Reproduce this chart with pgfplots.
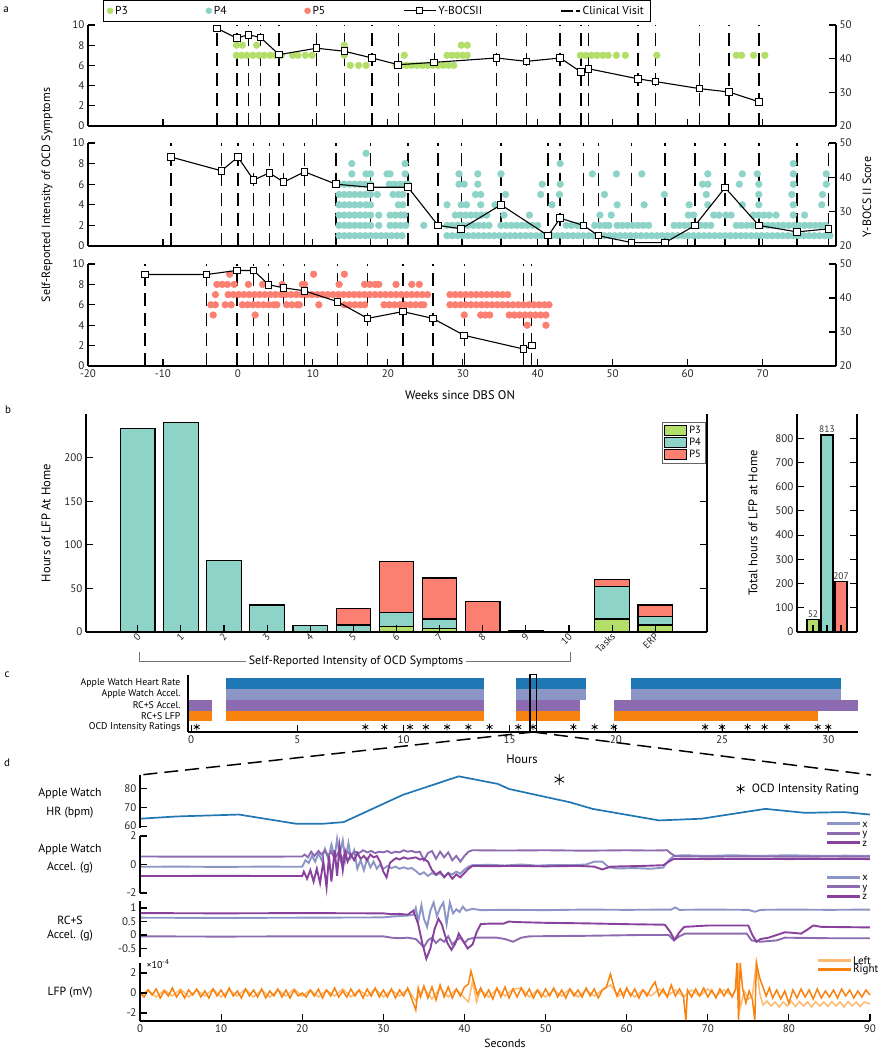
\documentclass[border=0pt]{standalone}
\usepackage{fontspec}
\setmainfont{PT Sans}
\usepackage{pgfplots}
\pgfplotsset{compat=1.18}
\definecolor{p3}{HTML}{B3DE69}
\definecolor{p4}{HTML}{8DD3C7}
\definecolor{p5}{HTML}{FB8072}
\definecolor{hrc}{HTML}{1F77B4}
\definecolor{aax}{HTML}{8C96C6}
\definecolor{aay}{HTML}{8C6BB1}
\definecolor{aaz}{HTML}{88419D}
\definecolor{lfpR}{HTML}{F8820F}
\definecolor{lfpL}{HTML}{FDBA70}
\pgfplotsset{
  base/.style={scale only axis, axis on top, tick align=inside, major tick length=7pt,
    tick style={black, line width=1.1pt},
    axis line style={black, line width=1.4pt},
    tick label style={font=\fontsize{11}{12}\selectfont, text=black!85},
    /pgf/number format/assume math mode=true, clip=false},
  dots/.style={only marks, mark=*, mark size=3.4pt, mark options={draw=none}, forget plot},
  visits/.style={black, line width=1.5pt, dash pattern=on 13pt off 7pt, ycomb, mark=none, forget plot},
  ybocs/.style={black, line width=1.1pt, mark=square*, mark size=3.3pt, mark options={fill=white, draw=black, line width=1pt, solid}, forget plot},
  trace/.style={line width=1.9pt, mark=none},
  xyzleg/.style={legend cell align=left, legend style={draw=none, fill=none, font=\fontsize{10.5}{10.5}\selectfont, row sep=0pt, inner sep=0pt, nodes={inner sep=0.5pt, text height=6.5pt, text depth=2pt}},
    legend image code/.code={\draw[##1, line width=3pt] (0pt,1pt) -- (33pt,1pt);}},
  ybleg/.style={legend image code/.code={\draw[mark repeat=2,mark phase=2,##1] plot coordinates {(0pt,0pt) (16pt,0pt) (32pt,0pt)};}},
  cvleg/.style={legend image code/.code={\draw[black, line width=1.6pt] (0pt,0pt) -- (12pt,0pt); \draw[black, line width=1.6pt] (15pt,0pt) -- (19pt,0pt);}},
  starleg/.style={legend image code/.code={\path (-4pt,0pt) (9pt,0pt); \draw[##1] plot coordinates {(0pt,0pt)};}},
}
\begin{document}
\begin{tikzpicture}[x=1pt,y=1pt]
\useasboundingbox (0,0) rectangle (878,1050);

% ================= Panel a =================
\node[font=\fontsize{11}{12}\selectfont] at (6,1040) {a};
% --- P3 ---
\begin{axis}[base, at={(88pt,924pt)}, anchor=south west, width=748pt, height=101pt,
  xmin=-20, xmax=79.8, ymin=0, ymax=10,
  axis x line*=bottom, axis y line*=left,
  xtick={-20,-10,...,70}, xticklabels={}, ytick={0,2,...,10},
  legend columns=5, legend cell align=left,
  legend style={at={(axis description cs:0.02,1.245)}, anchor=north west, draw=black, fill=white,
    font=\fontsize{11.5}{13}\selectfont, inner ysep=3.5pt, inner xsep=4pt,
    /tikz/every even column/.append style={column sep=76pt}}]
\addplot[dots, p3] coordinates {(-0.2,8)(0.6,8)(2.5,8)(14.2,8)(29.8,8)(30.6,8)(-0.2,7)(0.5,7)(1.2,7)(2.0,7)(2.8,7)(3.5,7)(4.3,7)(5.0,7)(5.8,7)(7.3,7)(8.0,7)(9.0,7)(9.9,7)(14.2,7)(22.2,7)(27.9,7)(28.6,7)(29.3,7)(30.0,7)(30.6,7)(45.7,7)(46.4,7)(47.2,7)(47.9,7)(48.7,7)(49.4,7)(50.5,7)(51.7,7)(55.9,7)(66.5,7)(67.2,7)(68.8,7)(70.3,7)(15.0,6)(16.1,6)(17.1,6)(21.1,6)(21.8,6)(22.5,6)(23.2,6)(23.9,6)(24.6,6)(25.3,6)(26.0,6)(26.7,6)(27.4,6)(28.1,6)(28.8,6)};
\addplot[visits] coordinates {(-2.8,10)(-0.15,10)(1.4,10)(3.0,10)(5.5,10)(10.5,10)(14.2,10)(17.9,10)(21.4,10)(26.2,10)(34.5,10)(38.5,10)(43.0,10)(45.8,10)(46.8,10)(53.4,10)(55.7,10)(61.6,10)(65.5,10)(69.5,10)};
\addlegendimage{only marks, mark=*, mark size=3pt, mark options={draw=none}, p3}
\addlegendentry{P3}
\addlegendimage{only marks, mark=*, mark size=3pt, mark options={draw=none}, p4}
\addlegendentry{P4}
\addlegendimage{only marks, mark=*, mark size=3pt, mark options={draw=none}, p5}
\addlegendentry{P5}
\addlegendimage{ybleg, black, line width=1.1pt, mark=square*, mark size=3pt, mark options={fill=white, solid}}
\addlegendentry{Y-BOCSII}
\addlegendimage{cvleg, black}
\addlegendentry{Clinical Visit}
\end{axis}
\begin{axis}[base, at={(88pt,924pt)}, anchor=south west, width=748pt, height=101pt,
  xmin=-20, xmax=79.8, ymin=20, ymax=50, axis x line=none, axis y line*=right, ytick={20,30,40,50}]
\addplot[ybocs] coordinates {(-2.8,49.0)(-0.15,46.1)(1.4,47.1)(3.0,46.3)(5.5,41.2)(10.5,43.1)(14.2,42.2)(17.9,40.2)(21.4,38.2)(26.2,38.9)(34.5,40.2)(38.5,39.2)(43.0,40.2)(45.8,36.0)(46.8,37.0)(53.4,34.0)(55.7,33.2)(61.6,31.1)(65.5,30.1)(69.5,27.2)};
\end{axis}

% --- P4 ---
\begin{axis}[base, at={(88pt,804pt)}, anchor=south west, width=748pt, height=103pt,
  xmin=-20, xmax=79.8, ymin=0, ymax=10,
  axis x line*=bottom, axis y line*=left,
  xtick={-20,-10,...,70}, xticklabels={}, ytick={0,2,...,10}]
\addplot[dots, p4] coordinates {(13.5,1)(14.2,1)(14.9,1)(15.6,1)(16.3,1)(17.0,1)(17.7,1)(18.4,1)(19.1,1)(19.8,1)(20.5,1)(21.2,1)(21.9,1)(27.9,1)(28.6,1)(29.3,1)(30.0,1)(30.7,1)(31.4,1)(32.1,1)(32.8,1)(33.5,1)(34.2,1)(34.9,1)(35.6,1)(36.3,1)(37.0,1)(37.7,1)(38.4,1)(39.1,1)(39.8,1)(40.5,1)(41.2,1)(41.9,1)(42.6,1)(43.3,1)(44.0,1)(44.7,1)(45.4,1)(46.1,1)(46.8,1)(47.5,1)(48.2,1)(48.9,1)(49.6,1)(50.3,1)(51.0,1)(51.7,1)(52.4,1)(53.1,1)(53.8,1)(54.5,1)(55.2,1)(55.9,1)(56.6,1)(57.3,1)(58.0,1)(58.7,1)(59.4,1)(60.1,1)(60.8,1)(61.5,1)(62.2,1)(62.9,1)(63.6,1)(64.3,1)(65.0,1)(65.7,1)(66.4,1)(67.1,1)(67.8,1)(68.5,1)(69.2,1)(69.9,1)(70.6,1)(71.3,1)(72.0,1)(72.7,1)(73.4,1)(74.1,1)(74.8,1)(75.5,1)(76.2,1)(76.9,1)(77.6,1)(78.3,1)(79.0,1)
(13.5,2)(14.2,2)(14.9,2)(15.6,2)(16.3,2)(17.0,2)(17.7,2)(18.8,2)(20.3,2)(21.0,2)(21.7,2)(22.4,2)(24.8,2)(27.9,2)(28.6,2)(29.3,2)(30.0,2)(30.7,2)(31.4,2)(32.1,2)(32.8,2)(33.5,2)(35.1,2)(35.8,2)(36.5,2)(37.2,2)(37.9,2)(38.6,2)(39.3,2)(40.0,2)(43.8,2)(44.5,2)(45.3,2)(47.6,2)(48.3,2)(49.0,2)(49.5,2)(50.6,2)(51.3,2)(52.0,2)(52.7,2)(53.4,2)(54.1,2)(54.8,2)(58.2,2)(58.9,2)(59.6,2)(60.3,2)(61.0,2)(61.7,2)(62.4,2)(63.1,2)(66.5,2)(67.2,2)(67.9,2)(68.6,2)(69.3,2)(70.0,2)(70.7,2)(71.4,2)(72.1,2)(72.8,2)(73.5,2)(74.2,2)(74.9,2)(75.6,2)(76.3,2)(77.0,2)(77.7,2)(78.4,2)
(13.5,3)(14.2,3)(14.9,3)(15.6,3)(16.3,3)(17.0,3)(17.7,3)(18.8,3)(20.3,3)(21.0,3)(21.7,3)(22.2,3)(29.0,3)(29.7,3)(30.4,3)(31.1,3)(31.8,3)(32.5,3)(33.2,3)(35.5,3)(38.9,3)(48.3,3)(49.8,3)(60.1,3)(60.8,3)(63.5,3)(64.2,3)(65.1,3)(65.8,3)(68.8,3)(69.5,3)(70.2,3)(70.9,3)(71.8,3)(74.1,3)(75.6,3)
(13.5,4)(14.2,4)(14.9,4)(15.6,4)(16.3,4)(17.1,4)(17.7,4)(21.4,4)(22.0,4)(27.9,4)(29.8,4)(30.5,4)(32.4,4)(34.3,4)(41.9,4)(50.6,4)(54.2,4)(60.2,4)(62.7,4)(67.3,4)(69.5,4)(74.1,4)(77.9,4)
(13.5,5)(14.2,5)(14.9,5)(15.6,5)(16.3,5)(17.0,5)(17.7,5)(18.6,5)(20.7,5)(21.4,5)(22.0,5)(31.7,5)(32.4,5)(35.7,5)(40.4,5)(42.9,5)(48.9,5)(56.9,5)(62.5,5)(69.5,5)(73.9,5)(78.0,5)
(13.5,6)(14.2,6)(14.9,6)(15.6,6)(16.3,6)(17.0,6)(17.7,6)(20.2,6)(20.9,6)(21.6,6)(22.3,6)(22.7,6)(29.5,6)(30.2,6)(32.0,6)(40.6,6)(43.0,6)(62.0,6)(62.7,6)(66.9,6)(69.5,6)(74.1,6)(78.5,6)
(15.2,7)(17.1,7)(17.7,7)(19.9,7)(20.3,7)(22.3,7)(29.5,7)(32.0,7)(35.1,7)(47.3,7)(50.5,7)(53.9,7)(62.7,7)(67.3,7)(69.3,7)(74.1,7)(78.5,7)
(15.2,8)(22.3,8)(43.0,8)(74.1,8)(17.1,9)};
\addplot[visits] coordinates {(-8.9,10)(-2.2,10)(0,10)(2.1,10)(4.2,10)(6.1,10)(8.9,10)(13.1,10)(17.7,10)(22.7,10)(26.7,10)(29.8,10)(35.1,10)(41.4,10)(43.0,10)(46.1,10)(48.1,10)(52.5,10)(57.0,10)(61.0,10)(65.0,10)(69.5,10)(74.6,10)(78.8,10)};
\end{axis}
\begin{axis}[base, at={(88pt,804pt)}, anchor=south west, width=748pt, height=103pt,
  xmin=-20, xmax=79.8, ymin=20, ymax=50, axis x line=none, axis y line*=right, ytick={20,30,40,50}]
\addplot[ybocs] coordinates {(-8.9,45.9)(-2.2,41.9)(0,45.9)(2.1,39.2)(4.2,41.3)(6.1,38.6)(8.9,41.6)(13.1,38.0)(17.7,37.1)(22.7,37.1)(26.7,26.0)(29.8,25.0)(35.1,32.0)(41.4,23.0)(43.0,28.1)(46.1,26.0)(48.1,23.0)(52.5,21.0)(57.0,21.0)(61.0,26.0)(65.0,37.0)(69.5,26.0)(74.6,24.1)(78.8,25.0)};
\end{axis}

% --- P5 ---
\begin{axis}[base, at={(88pt,684pt)}, anchor=south west, width=748pt, height=102pt,
  xmin=-20, xmax=79.8, ymin=0, ymax=10,
  axis x line*=bottom, axis y line*=left,
  xtick={-20,-10,...,70}, ytick={0,2,...,10}]
\addplot[dots, p5] coordinates {(-1.1,9)(10.1,9)(14.2,9)
(-2.8,8)(-2.1,8)(-1.4,8)(-0.5,8)(1.4,8)(3.3,8)(5.9,8)(8.6,8)(8.9,8)(13.5,8)(16.9,8)(17.6,8)(18.3,8)(18.8,8)(21.1,8)(23.2,8)(24.2,8)
(-3.0,7)(-1.3,7)(-0.6,7)(0.1,7)(0.8,7)(1.5,7)(2.2,7)(2.9,7)(3.6,7)(4.3,7)(5.0,7)(5.7,7)(6.4,7)(7.1,7)(7.8,7)(8.5,7)(9.2,7)(9.9,7)(10.6,7)(11.3,7)(12.0,7)(12.7,7)(13.4,7)(14.1,7)(14.8,7)(15.5,7)(16.2,7)(16.9,7)(17.6,7)(18.3,7)(19.0,7)(19.7,7)(20.4,7)(21.1,7)(21.8,7)(22.5,7)(23.2,7)(23.9,7)(24.6,7)(25.3,7)(28.3,7)(29.0,7)(29.7,7)(30.4,7)(31.1,7)(31.8,7)(32.5,7)(33.2,7)(33.9,7)(34.6,7)(35.3,7)(36.0,7)
(-3.6,6)(-3.0,6)(-1.7,6)(-0.9,6)(0.6,6)(1.3,6)(2.0,6)(2.7,6)(3.4,6)(4.1,6)(4.8,6)(5.2,6)(6.5,6)(7.2,6)(7.9,6)(8.2,6)(10.8,6)(14.2,6)(14.9,6)(15.6,6)(16.3,6)(16.9,6)(19.5,6)(20.2,6)(20.9,6)(21.6,6)(22.3,6)(23.0,6)(23.7,6)(24.4,6)(24.8,6)(28.3,6)(29.0,6)(29.7,6)(30.4,6)(31.1,6)(31.8,6)(32.5,6)(33.2,6)(33.9,6)(34.6,6)(35.3,6)(36.0,6)(36.7,6)(37.4,6)(38.1,6)(38.8,6)(39.5,6)(40.2,6)(40.9,6)(41.5,6)
(-3.3,5)(2.3,5)(30.2,5)(32.4,5)(33.0,5)(33.6,5)(36.2,5)(36.9,5)(37.6,5)(38.3,5)(39.0,5)(39.7,5)(40.4,5)(41.1,5)(38.6,4)(41.1,4)};
\addplot[visits] coordinates {(-12.4,10)(-4.2,10)(-0.15,10)(2.1,10)(4.1,10)(6.1,10)(8.9,10)(13.3,10)(17.3,10)(22.0,10)(26.0,10)(30.2,10)(38.1,10)(39.2,10)};
\end{axis}
\begin{axis}[base, at={(88pt,684pt)}, anchor=south west, width=748pt, height=102pt,
  xmin=-20, xmax=79.8, ymin=20, ymax=50, axis x line=none, axis y line*=right, ytick={20,30,40,50}]
\addplot[ybocs] coordinates {(-12.4,46.9)(-4.2,46.9)(-0.15,48.1)(2.1,48.1)(4.1,43.9)(6.1,43.0)(8.9,42.1)(13.3,38.9)(17.3,34.0)(22.0,36.0)(26.0,34.0)(30.2,29.0)(38.1,25.0)(39.2,26.0)};
\end{axis}
\node[rotate=90, font=\fontsize{12}{14}\selectfont] at (47,855) {Self-Reported Intensity of OCD Symptoms};
\node[rotate=90, font=\fontsize{12}{14}\selectfont] at (867,853) {Y-BOCS II Score};
\node[font=\fontsize{12.5}{14}\selectfont] at (460,655) {Weeks since DBS ON};

% ================= Panel b =================
\node[font=\fontsize{11}{12}\selectfont] at (8,640) {b};
\begin{axis}[base, at={(86pt,418pt)}, anchor=south west, width=621pt, height=218pt,
  xmin=-1.2, xmax=13.2, ymin=0, ymax=250,
  axis x line*=bottom, axis y line*=box, ytick={0,50,...,200}, ytick pos=both, yticklabel pos=left,
  xtick={0,...,12}, xticklabels={0,1,2,3,4,5,6,7,8,9,10,Tasks,ERP},
  xticklabel style={rotate=45, anchor=east, font=\fontsize{10}{10}\selectfont, inner sep=1pt, yshift=-3pt},
  ybar stacked, bar width=0.8,
  legend cell align=left,
  legend style={at={(0.997,0.963)}, anchor=north east, draw=black!60, fill=white, font=\fontsize{10.5}{11}\selectfont, row sep=-1pt, inner sep=2pt},
  legend image code/.code={\draw[#1, line width=1pt] (0pt,-5pt) rectangle (22pt,5pt);}]
\addplot[fill=p3, draw=black, line width=1.2pt] coordinates {(0,0)(1,0)(2,0)(3,0)(4,0)(5,0)(6,6)(7,4)(8,0)(9,0)(10,0)(11,15)(12,8)};
\addlegendentry{P3}
\addplot[fill=p4, draw=black, line width=1.2pt] coordinates {(0,233)(1,240)(2,82)(3,31)(4,7)(5,8)(6,16)(7,11)(8,0)(9,1)(10,0)(11,37)(12,10)};
\addlegendentry{P4}
\addplot[fill=p5, draw=black, line width=1.2pt] coordinates {(0,0)(1,0)(2,0)(3,0)(4,0)(5,19)(6,59)(7,47)(8,35)(9,1)(10,0)(11,8)(12,13)};
\addlegendentry{P5}
\end{axis}
\draw[black!55, line width=1pt] (139,398) -- (139,388) -- (570,388) -- (570,398);
\node[fill=white, inner xsep=3pt, inner ysep=1pt, font=\fontsize{12}{14}\selectfont] at (356,389) {Self-Reported Intensity of OCD Symptoms};
\node[rotate=90, font=\fontsize{12.5}{14}\selectfont] at (46,527) {Hours of LFP At Home};

\begin{axis}[base, at={(797pt,418pt)}, anchor=south west, width=60pt, height=218pt,
  xmin=-0.14, xmax=4.14, ymin=0, ymax=900,
  axis x line*=bottom, axis y line*=box, ytick={0,100,...,800}, ytick pos=both, yticklabel pos=left,
  xtick={1,2,3}, xticklabels={},
  nodes near coords, every node near coord/.append style={font=\fontsize{9.5}{10}\selectfont, text=black!80, inner sep=1.5pt}]
\addplot[ybar, bar width=0.85, bar shift=0pt, fill=p3, draw=black, line width=1.2pt] coordinates {(1,52)};
\addplot[ybar, bar width=0.85, bar shift=0pt, fill=p4, draw=black, line width=1.2pt] coordinates {(2,813)};
\addplot[ybar, bar width=0.85, bar shift=0pt, fill=p5, draw=black, line width=1.2pt] coordinates {(3,207)};
\end{axis}
\node[rotate=90, font=\fontsize{12.5}{14}\selectfont] at (753,527) {Total hours of LFP at Home};

% ================= Panel c =================
\node[font=\fontsize{11}{12}\selectfont] at (7,375) {c};
\begin{axis}[base, at={(188pt,318pt)}, anchor=south west, width=670pt, height=57pt,
  xmin=-0.15, xmax=31.4, ymin=0.545, ymax=5.73,
  axis x line*=bottom, axis y line*=left, xtick={0,5,...,30}, ytick=\empty]
\addplot[fill=hrc, draw=none] coordinates {(1.66,4.5)(13.8,4.5)(13.8,5.5)(1.66,5.5)} -- cycle;
\addplot[fill=hrc, draw=none] coordinates {(15.3,4.5)(18.6,4.5)(18.6,5.5)(15.3,5.5)} -- cycle;
\addplot[fill=hrc, draw=none] coordinates {(20.7,4.5)(30.6,4.5)(30.6,5.5)(20.7,5.5)} -- cycle;
\addplot[fill=aax, draw=none] coordinates {(1.66,3.5)(13.8,3.5)(13.8,4.5)(1.66,4.5)} -- cycle;
\addplot[fill=aax, draw=none] coordinates {(15.3,3.5)(18.6,3.5)(18.6,4.5)(15.3,4.5)} -- cycle;
\addplot[fill=aax, draw=none] coordinates {(20.7,3.5)(30.6,3.5)(30.6,4.5)(20.7,4.5)} -- cycle;
\addplot[fill=aay, draw=none] coordinates {(-0.13,2.5)(1.0,2.5)(1.0,3.5)(-0.13,3.5)} -- cycle;
\addplot[fill=aay, draw=none] coordinates {(1.66,2.5)(13.8,2.5)(13.8,3.5)(1.66,3.5)} -- cycle;
\addplot[fill=aay, draw=none] coordinates {(15.3,2.5)(18.3,2.5)(18.3,3.5)(15.3,3.5)} -- cycle;
\addplot[fill=aay, draw=none] coordinates {(19.9,2.5)(31.4,2.5)(31.4,3.5)(19.9,3.5)} -- cycle;
\addplot[fill=lfpR, draw=none] coordinates {(-0.13,1.5)(1.0,1.5)(1.0,2.5)(-0.13,2.5)} -- cycle;
\addplot[fill=lfpR, draw=none] coordinates {(1.66,1.5)(13.8,1.5)(13.8,2.5)(1.66,2.5)} -- cycle;
\addplot[fill=lfpR, draw=none] coordinates {(15.3,1.5)(18.3,1.5)(18.3,2.5)(15.3,2.5)} -- cycle;
\addplot[fill=lfpR, draw=none] coordinates {(19.9,1.5)(29.5,1.5)(29.5,2.5)(19.9,2.5)} -- cycle;
\addplot[only marks, mark=asterisk, mark size=3.3pt, black, mark options={line width=0.8pt}] coordinates {(0.26,1)(8.2,1)(9.1,1)(10.3,1)(11.05,1)(12.05,1)(13.05,1)(14.05,1)(15.4,1)(16.1,1)(18.0,1)(19.0,1)(19.9,1)(24.2,1)(25.0,1)(26.2,1)(27.0,1)(28.05,1)(29.5,1)(30.0,1)};
\addplot[black, line width=1.3pt, mark=none] coordinates {(15.95,0.6)(16.25,0.6)(16.25,5.75)(15.95,5.75)} -- cycle;
\coordinate (zc) at (axis cs:16.1,0.545);
\end{axis}
\begin{scope}[font=\fontsize{9.8}{10}\selectfont]
\node[anchor=east] at (184,367) {Apple Watch Heart Rate};
\node[anchor=east] at (184,356) {Apple Watch Accel.};
\node[anchor=east] at (184,345) {RC+S Accel.};
\node[anchor=east] at (184,334) {RC+S LFP};
\node[anchor=east] at (184,323) {OCD Intensity Ratings};
\end{scope}
\node[font=\fontsize{12.5}{14}\selectfont] at (522,291) {Hours};
\draw[black, line width=1.5pt, dash pattern=on 14pt off 7pt] (zc) -- (140,275);
\draw[black, line width=1.5pt, dash pattern=on 14pt off 7pt] (zc) -- (871,275);

% ================= Panel d =================
\node[font=\fontsize{11}{12}\selectfont] at (7,287) {d};
% HR
\begin{axis}[base, at={(140pt,222pt)}, anchor=south west, width=730pt, height=53pt,
  xmin=0, xmax=90, ymin=59, ymax=87, axis x line=none, axis y line*=left, ytick={60,70,80},
  legend style={at={(0.992,0.74)}, anchor=east, draw=none, fill=none, font=\fontsize{12}{13}\selectfont}]
\addplot[hrc, line width=1.7pt, forget plot] coordinates {(0,63.9)(4.5,65.1)(12.2,66.1)(19.3,61.2)(22.4,61.2)(25.1,62.1)(32.4,76.5)(39.3,86.3)(44.1,82.3)(45.5,79.6)(53.0,72.6)(55.8,69.1)(64.0,63.0)(69.2,63.9)(77.1,69.1)(82.0,67.0)(86.8,67.4)(90,66.1)};
\addplot[only marks, mark=asterisk, mark size=5.5pt, black, mark options={line width=0.8pt}, forget plot] coordinates {(51.7,84.6)};
\addlegendimage{starleg, only marks, mark=asterisk, mark size=4.5pt, black, mark options={line width=0.8pt}}
\addlegendentry{OCD Intensity Rating}
\end{axis}
% Apple Watch accel
\begin{axis}[base, xyzleg, at={(140pt,157pt)}, anchor=south west, width=730pt, height=57pt,
  xmin=0, xmax=90, ymin=-2, ymax=2, axis x line=none, axis y line*=left, ytick={-2,0,2},
  legend style={at={(0.998,1.28)}, anchor=north east}]
\addplot[trace, aax] coordinates {(0,-0.16)(5,-0.15)(10,-0.17)(15,-0.15)(20,-0.16)(20.4,0.3)(20.8,0.1)(21.2,0.6)(21.6,0.2)(22,0.8)(22.4,0.3)(22.8,1.1)(23.2,0.4)(23.6,1.4)(24,0.5)(24.3,1.8)(24.6,0.7)(25,1.7)(25.3,0.3)(25.7,1.5)(26,0.5)(26.4,1.0)(26.8,-0.3)(27.2,0.3)(27.6,-0.4)(28,0.4)(28.4,-0.2)(28.8,0.2)(29.2,-0.3)(29.6,0.0)(30,-0.3)(30.5,-0.1)(31,-0.25)(31.5,-0.15)(32,-0.3)(32.5,-0.2)(33,-0.3)(33.5,-0.25)(34,-0.45)(34.5,-0.7)(35,-0.55)(35.5,-0.8)(36,-0.6)(36.5,-0.75)(37,-0.6)(37.5,-0.85)(38,-0.6)(38.5,-0.7)(39,-0.5)(39.5,-0.65)(40,-0.35)(40.5,-0.15)(41,-0.05)(43,-0.02)(45,-0.07)(47,0.0)(49,-0.08)(51,-0.03)(53,-0.05)(55,0.0)(56,0.2)(57,0.2)(57.8,-0.2)(59,-0.28)(61,-0.25)(63,-0.3)(64.5,-0.22)(65.2,0.3)(65.8,0.6)(67,0.65)(70,0.6)(73,0.65)(76,0.6)(80,0.65)(84,0.6)(87,0.62)(90,0.6)};
\addlegendentry{x}
\addplot[trace, aay] coordinates {(0,0.56)(10,0.55)(20,0.56)(20.3,0.7)(20.7,0.5)(21.1,0.9)(21.5,0.6)(22,0.95)(22.4,0.7)(22.8,1.0)(23.2,0.6)(23.6,0.9)(24,0.4)(24.4,0.8)(24.8,0.2)(25.2,0.7)(25.6,0.9)(26,0.6)(26.5,0.9)(27,0.8)(27.5,1.0)(28,0.85)(28.5,0.95)(29,0.8)(29.5,0.9)(30,0.85)(30.5,0.95)(31,0.8)(31.5,0.9)(32,0.85)(32.5,1.0)(33,0.9)(33.5,0.95)(34,0.85)(34.5,0.9)(35,0.3)(35.5,0.8)(36,0.95)(36.5,0.4)(37,0.9)(37.5,0.5)(38,0.85)(38.5,0.3)(39,0.6)(39.5,0.2)(40,0.6)(40.5,0.9)(41,1.0)(45,0.98)(50,1.0)(55,0.97)(60,1.0)(63,0.98)(65,1.0)(65.4,0.8)(66,0.58)(70,0.55)(75,0.57)(80,0.55)(85,0.56)(90,0.55)};
\addlegendentry{y}
\addplot[trace, aaz] coordinates {(0,-0.81)(10,-0.8)(20,-0.81)(20.2,-0.5)(20.6,-1.0)(21,-0.4)(21.4,-1.2)(21.8,-0.3)(22.2,-1.3)(22.6,0.2)(23,-1.6)(23.3,0.6)(23.6,-1.2)(24,1.0)(24.3,-0.8)(24.6,1.3)(25,-0.4)(25.3,0.9)(25.6,0.2)(26,0.7)(26.4,0.3)(26.8,0.8)(27.2,0.4)(27.6,0.6)(28,0.3)(28.4,0.7)(28.8,0.5)(29.2,0.6)(29.6,0.2)(30,-0.5)(30.4,-0.9)(30.8,0.1)(31.2,0.3)(31.6,0.45)(32,0.35)(32.5,0.5)(33,0.4)(33.5,0.45)(34,0.5)(34.5,0.35)(35,0.4)(35.5,0.2)(36,-0.4)(36.5,-0.7)(37,-0.5)(37.5,-0.9)(38,-0.6)(38.5,-1.0)(39,-0.7)(39.5,-0.9)(40,-0.6)(40.5,-0.3)(41,-0.1)(43,-0.12)(46,-0.1)(50,-0.13)(54,-0.1)(56,-0.15)(57,-0.35)(58,-0.15)(62,-0.1)(64.5,-0.05)(65.2,0.2)(65.8,0.4)(70,0.38)(75,0.4)(80,0.38)(85,0.4)(90,0.38)};
\addlegendentry{z}
\end{axis}
% RC+S accel
\begin{axis}[base, xyzleg, at={(140pt,93.4pt)}, anchor=south west, width=730pt, height=55.4pt,
  xmin=0, xmax=90, ymin=-0.8, ymax=1.25, axis x line=none, axis y line*=left, ytick={-0.5,0,0.5,1},
  legend style={at={(0.998,1.5)}, anchor=north east}]
\addplot[trace, aax] coordinates {(0,0.64)(10,0.63)(20,0.64)(30,0.65)(31,0.68)(32,0.7)(33,0.72)(33.7,0.75)(34,1.0)(34.3,0.5)(34.7,1.1)(35,0.6)(35.4,0.3)(35.8,0.9)(36.2,1.2)(36.6,0.7)(37,1.0)(37.4,1.2)(37.8,0.4)(38.2,1.2)(38.6,0.8)(39,0.95)(39.4,0.85)(39.8,1.05)(40.2,0.9)(41,0.97)(42,0.92)(45,0.93)(50,0.92)(55,0.94)(60,0.93)(65.5,0.94)(66,1.02)(66.5,0.93)(70,0.94)(75,0.93)(75.8,0.86)(76.5,0.93)(80,0.94)(85,0.93)(90,0.94)};
\addlegendentry{x}
\addplot[trace, aay] coordinates {(0,-0.05)(10,-0.06)(20,-0.05)(30,-0.05)(31,-0.1)(32,-0.12)(33,-0.1)(34,-0.15)(34.5,-0.3)(35,-0.45)(35.5,-0.2)(36,-0.1)(36.5,-0.3)(37,-0.15)(37.5,-0.25)(38,-0.05)(38.5,-0.35)(39,-0.2)(39.5,-0.1)(40,-0.3)(40.5,-0.15)(41.3,-0.1)(44,-0.1)(45,-0.15)(46,-0.25)(47,-0.1)(48,-0.05)(55,-0.03)(62,0.0)(65.2,0.0)(65.8,-0.2)(66.5,-0.05)(67.2,0.05)(70,0.05)(74.8,0.05)(75.4,-0.2)(76.5,-0.25)(78.5,-0.2)(79.5,-0.1)(85,-0.12)(90,-0.12)};
\addlegendentry{y}
\addplot[trace, aaz] coordinates {(0,0.81)(10,0.8)(20,0.81)(30,0.8)(31,0.77)(32,0.78)(33,0.75)(33.7,0.9)(34.3,0.4)(34.8,-0.3)(35.3,-0.88)(35.8,-0.5)(36.3,0.2)(36.8,0.6)(37.2,0.4)(37.9,-0.3)(38.4,-0.55)(38.9,-0.3)(39.3,0.05)(39.8,-0.2)(40.4,-0.5)(41,-0.35)(41.5,0.1)(42,0.4)(43,0.42)(44.8,0.42)(45.5,0.5)(46.1,0.48)(50,0.45)(55,0.43)(60,0.4)(64.7,0.38)(65.4,0.1)(65.9,-0.18)(66.5,0.1)(67.1,0.3)(70,0.35)(75,0.35)(75.5,0.0)(76,-0.25)(76.5,-0.15)(77.5,-0.1)(78.5,0.0)(79.5,0.1)(80.5,0.08)(81.5,0.05)(82.3,0.2)(83,0.35)(84,0.3)(90,0.28)};
\addlegendentry{z}
\end{axis}
% LFP
\begin{axis}[base, xyzleg, at={(140pt,29pt)}, anchor=south west, width=730pt, height=58pt,
  xmin=0, xmax=90, ymin=-2.8, ymax=3, axis x line*=bottom, axis y line*=left, ytick={-2,0,2},
  xtick={0,10,...,90},
  legend style={at={(1.012,1.1)}, anchor=north east, font=\fontsize{11}{11}\selectfont, nodes={inner sep=0.3pt, text height=6.5pt, text depth=1.5pt}}]
\addplot[lfpL, line width=1.5pt] coordinates {(0,-0.3)(1,0.3)(2,-0.4)(3,0.3)(4,-0.3)(5,0.4)(6,-0.4)(7,0.3)(8,-0.3)(9,0.4)(10,-0.4)(11,0.3)(12,-0.3)(13,0.4)(14,-0.4)(15,0.3)(16,-0.4)(17,0.3)(18,-0.3)(19,0.4)(20,-0.3)(21,0.3)(22,-0.4)(23,0.3)(24,-0.3)(25,0.4)(26,-0.4)(27,0.3)(28,-0.3)(29,0.4)(30,-0.4)(31,0.3)(32,-0.3)(33,0.4)(34,-0.8)(35,0.5)(36,-0.6)(37,0.5)(38,-0.4)(39,0.4)(40,-0.5)(40.5,-0.9)(41,1.2)(41.5,-0.9)(42,0.3)(43,-0.4)(44,0.4)(45,-0.3)(46,0.4)(47,0.5)(48,-0.4)(49,0.3)(50,-0.4)(51,0.3)(52,-0.3)(53,0.4)(54,-0.4)(55,0.3)(56,-0.3)(57,0.3)(58,0.8)(59,-0.3)(60,0.3)(61,-0.4)(62,0.3)(63,-0.3)(64,0.4)(65,-0.3)(66,0.3)(67,-0.4)(68,0.3)(69,-0.3)(70,0.4)(71,-0.3)(72,0.3)(73,-0.3)(73.5,0.5)(73.7,3.0)(74,-1.5)(74.5,0.2)(75,-0.6)(75.5,-0.3)(76,3.0)(76.4,0.0)(76.8,-1.2)(77.3,-0.8)(77.8,-1.3)(78.3,-0.9)(78.8,-1.4)(79.3,-0.9)(79.8,-1.3)(80.3,-0.8)(80.8,-1.35)(81.3,-0.85)(81.8,-1.3)(82.3,-0.9)(82.8,-1.4)(83.3,-0.85)(83.8,-1.3)(84.3,-0.9)(84.8,-1.35)(85.3,-0.85)(85.8,-1.3)(86.3,-0.9)(86.8,-1.4)(87.3,-0.85)(87.8,-1.3)(88.3,-0.9)(88.8,-1.35)(89.3,-0.9)(90,-1.1)};
\addlegendentry{Left}
\addplot[lfpR, line width=1.5pt] coordinates {(0,0.1)(0.5,-0.4)(1,0.3)(1.5,-0.2)(2,0.4)(2.5,-0.5)(3,0.2)(3.5,-0.3)(4,0.5)(4.5,-0.4)(5,0.2)(5.5,-0.5)(6,0.3)(6.5,-0.2)(7,0.4)(7.5,-0.4)(8,0.2)(8.5,-0.5)(9,0.4)(9.5,-0.3)(10,0.3)(10.5,-0.4)(11,0.5)(11.5,-0.3)(12,0.2)(12.5,-0.5)(13,0.4)(13.5,-0.3)(14,0.3)(14.5,-0.4)(15,0.4)(15.5,-0.5)(16,0.2)(16.5,-0.3)(17,0.4)(17.5,-0.4)(18,0.3)(18.5,-0.5)(19,0.3)(19.5,-0.3)(20,0.0)(20.5,-0.4)(21,0.3)(21.5,-0.3)(22,0.4)(22.5,-0.5)(23,0.3)(23.5,-0.3)(24,0.5)(24.5,-0.4)(25,0.2)(25.5,-0.4)(26,0.4)(26.5,-0.3)(27,0.3)(27.5,-0.5)(28,0.4)(28.5,-0.3)(29,0.5)(29.5,-0.4)(30,0.3)(30.5,-0.4)(31,0.4)(31.5,-0.5)(32,0.3)(32.5,-0.3)(33,0.5)(33.5,-0.6)(34,-1.7)(34.3,0.5)(34.6,-0.4)(35,0.7)(35.5,-0.5)(36,0.6)(36.5,-0.7)(37,0.8)(37.5,-0.4)(38,0.6)(38.5,-0.5)(39,0.4)(39.5,-0.3)(40,0.6)(40.5,0.9)(40.8,2.2)(41.2,1.0)(41.6,-0.2)(42,0.5)(42.5,-0.4)(43,0.3)(43.5,-0.6)(44,0.5)(44.5,-0.4)(45,0.6)(45.5,-0.5)(46,0.4)(46.5,-0.4)(47,0.5)(47.5,-0.3)(48,0.4)(48.5,-0.5)(49,0.3)(49.5,-0.4)(50,0.4)(50.5,-0.3)(51,0.5)(51.5,-0.4)(52,0.3)(52.5,-0.5)(53,0.4)(53.5,-0.3)(54,0.3)(54.5,-0.4)(55,0.5)(55.5,-0.3)(56,0.4)(56.5,-0.5)(57,0.3)(57.5,0.6)(58,1.9)(58.4,0.7)(58.8,-0.3)(59.2,0.4)(59.6,-0.4)(60,0.5)(60.5,-0.3)(61,0.4)(61.5,-0.5)(62,0.3)(62.5,-0.3)(63,0.5)(63.5,1.1)(64,-0.3)(64.5,0.4)(65,-0.4)(65.5,0.8)(66,-0.3)(66.5,0.4)(67,-0.3)(67.3,-2.8)(67.5,0.3)(68,-0.4)(68.5,0.4)(69,-0.3)(69.5,0.5)(70,-0.4)(70.5,0.3)(71,-0.5)(71.5,0.4)(72,-0.3)(72.5,0.4)(73,-0.4)(73.4,0.3)(73.6,3.0)(73.8,-2.8)(74.0,3.0)(74.3,0.4)(74.7,-1.0)(75.1,0.2)(75.5,-0.6)(75.8,-2.8)(76.0,3.0)(76.4,1.5)(76.8,0.6)(77.2,-0.3)(77.6,0.5)(78,-0.5)(78.5,0.3)(79,-0.6)(79.5,0.2)(80,-1.0)(80.5,0.3)(81,-0.5)(81.5,0.4)(82,-0.4)(82.5,0.3)(83,-0.6)(83.5,0.4)(84,-0.5)(84.5,0.2)(85,-0.4)(85.5,0.3)(86,-0.5)(86.5,0.4)(87,-0.3)(87.5,0.3)(88,-0.5)(88.5,0.2)(89,-0.4)(89.5,0.3)(90,-0.2)};
\addlegendentry{Right}
\end{axis}
\node[anchor=west, font=\fontsize{10}{11}\selectfont] at (143,86) {×10\textsuperscript{-4}};
\begin{scope}[font=\fontsize{11.8}{13}\selectfont]
\node[align=center] at (70,247) {Apple Watch\\[6pt]HR (bpm)};
\node[align=center] at (70,191.5) {Apple Watch\\[5pt]Accel. (g)};
\node[align=center] at (70,121) {RC+S\\[1pt]Accel. (g)};
\node at (70,57) {LFP (mV)};
\node at (505,7) {Seconds};
\end{scope}
\end{tikzpicture}
\end{document}
